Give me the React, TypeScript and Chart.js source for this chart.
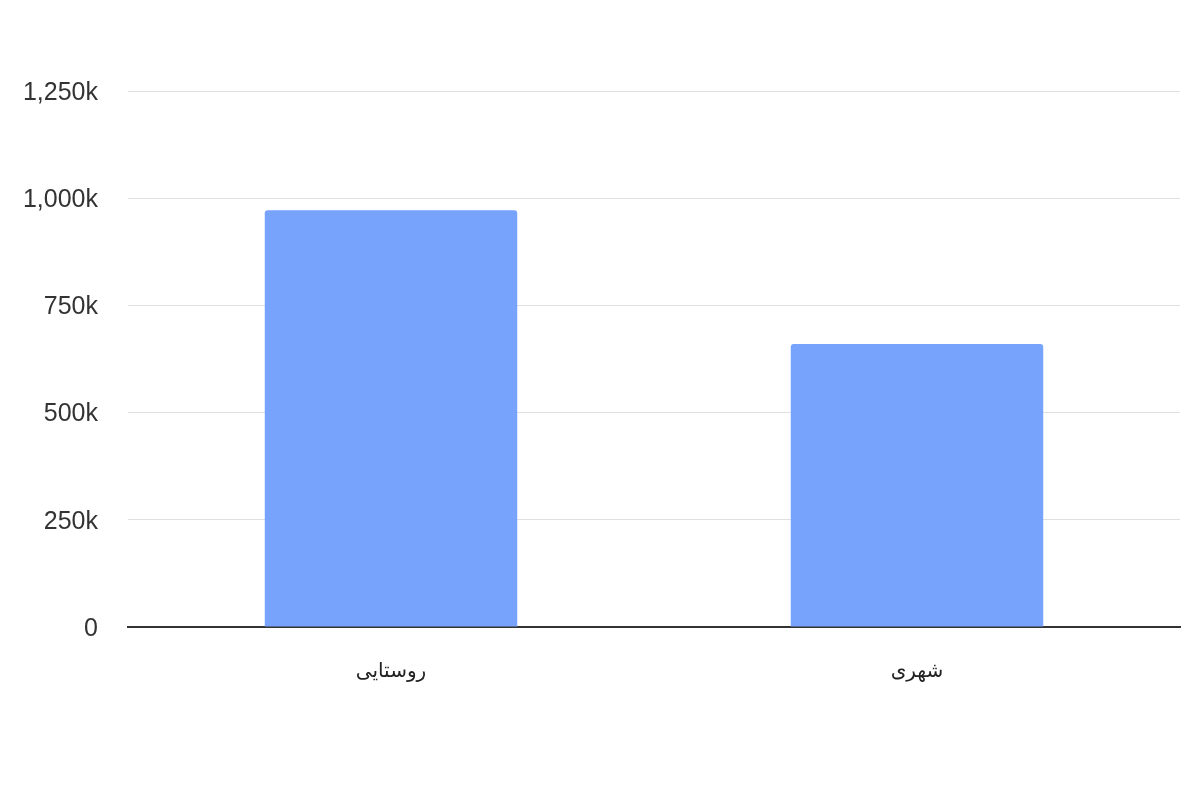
import React, { useEffect, useRef } from 'react';
import Chart from 'chart.js/auto';

// Categories and values (in thousands)
const categories = ['روستایی', 'شهری'];
const populationK = [972, 660];
const yTicks = [0, 250, 500, 750, 1000, 1250];

const barColor = '#77a3fd';
const fontFamily = '"Liberation Sans", Arial, "DejaVu Sans", sans-serif';

const App: React.FC = () => {
  const canvasRef = useRef<HTMLCanvasElement | null>(null);

  useEffect(() => {
    if (!canvasRef.current) return;
    const chart = new Chart(canvasRef.current, {
      type: 'bar',
      data: {
        labels: categories,
        datasets: [
          {
            data: populationK,
            backgroundColor: barColor,
            borderRadius: { topLeft: 3, topRight: 3, bottomLeft: 0, bottomRight: 0 },
            borderSkipped: false,
            barPercentage: 0.48,
            categoryPercentage: 1,
          },
        ],
      },
      options: {
        animation: false,
        responsive: true,
        maintainAspectRatio: false,
        layout: { padding: { top: 91, right: 20, left: 0, bottom: 0 } },
        plugins: { legend: { display: false }, tooltip: { enabled: false } },
        scales: {
          x: {
            grid: { display: false, drawTicks: false },
            border: { display: true, color: '#333333', width: 2 },
            ticks: {
              color: '#222222',
              padding: 32,
              font: { family: fontFamily, size: 20 },
            },
            afterFit: (scale) => {
              scale.height = 173;
            },
          },
          y: {
            min: 0,
            max: 1250,
            afterBuildTicks: (scale) => {
              scale.ticks = yTicks.map((v) => ({ value: v }));
            },
            grid: { color: '#e0e0e0', lineWidth: 1, drawTicks: false },
            border: { display: false },
            ticks: {
              color: '#333333',
              padding: 30,
              labelOffset: 2,
              font: { family: fontFamily, size: 25 },
              callback: (v) => (Number(v) === 0 ? '0' : `${Number(v).toLocaleString('en-US')}k`),
            },
            afterFit: (scale) => {
              scale.width = 128;
            },
          },
        },
      },
    });
    return () => chart.destroy();
  }, []);

  return (
    <div style={{ position: 'absolute', left: 0, top: 0, width: 1200, height: 800, background: '#fff' }}>
      <canvas ref={canvasRef}></canvas>
    </div>
  );
};

export default App;
